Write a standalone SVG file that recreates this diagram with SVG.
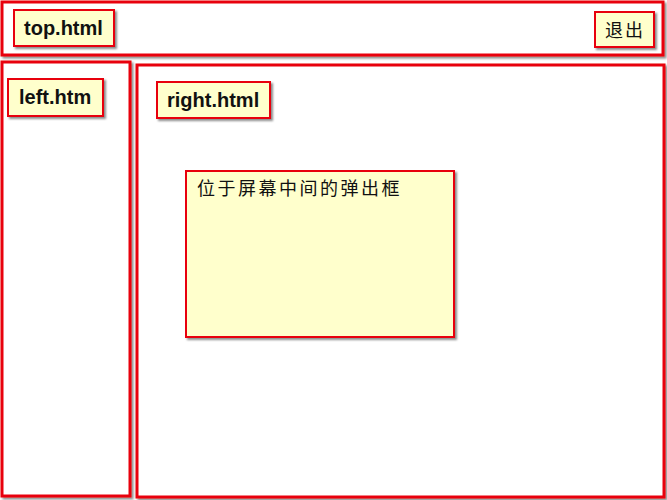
<svg xmlns="http://www.w3.org/2000/svg" width="667" height="500" viewBox="0 0 667 500">
<defs>
<filter id="sh" x="-10%" y="-10%" width="130%" height="130%">
<feDropShadow dx="2" dy="2" stdDeviation="1.2" flood-color="#000" flood-opacity="0.45"/>
</filter>
<style>
.frame{fill:#fff;stroke:#e8000b;stroke-width:3;filter:url(#sh)}
.lbl{fill:#ffffcc;stroke:#e8000b;stroke-width:2;filter:url(#sh)}
.t{font-family:"Liberation Sans",Arial,sans-serif;font-weight:bold;font-size:20px;fill:#111}
.c{font-family:"Noto Sans CJK SC","Liberation Sans",sans-serif;font-size:18px;fill:#111}
</style>
</defs>
<rect width="667" height="500" fill="#fff"/>
<g id="top">
<rect class="frame" x="2" y="2" width="661" height="53"/>
<rect class="lbl" x="14" y="10" width="100" height="36"/>
<text class="t" x="24" y="35">top.html</text>
</g>
<g id="exit">
<rect class="lbl" x="595" y="12" width="59" height="35"/>
<text class="c" x="605" y="37" letter-spacing="2">退出</text>
</g>
<g id="left">
<rect class="frame" x="2" y="62" width="128" height="434"/>
<rect class="lbl" x="8" y="79" width="95" height="37"/>
<text class="t" x="19" y="104">left.htm</text>
</g>
<g id="right">
<rect class="frame" x="137" y="65" width="527" height="432"/>
<rect class="lbl" x="157" y="82" width="113" height="36"/>
<text class="t" x="167" y="107">right.html</text>
</g>
<g id="popup">
<rect class="lbl" x="186" y="171" width="268" height="166"/>
<text class="c" x="197" y="195" letter-spacing="2.5">位于屏幕中间的弹出框</text>
</g>
<g id="connectors"/>
</svg>
